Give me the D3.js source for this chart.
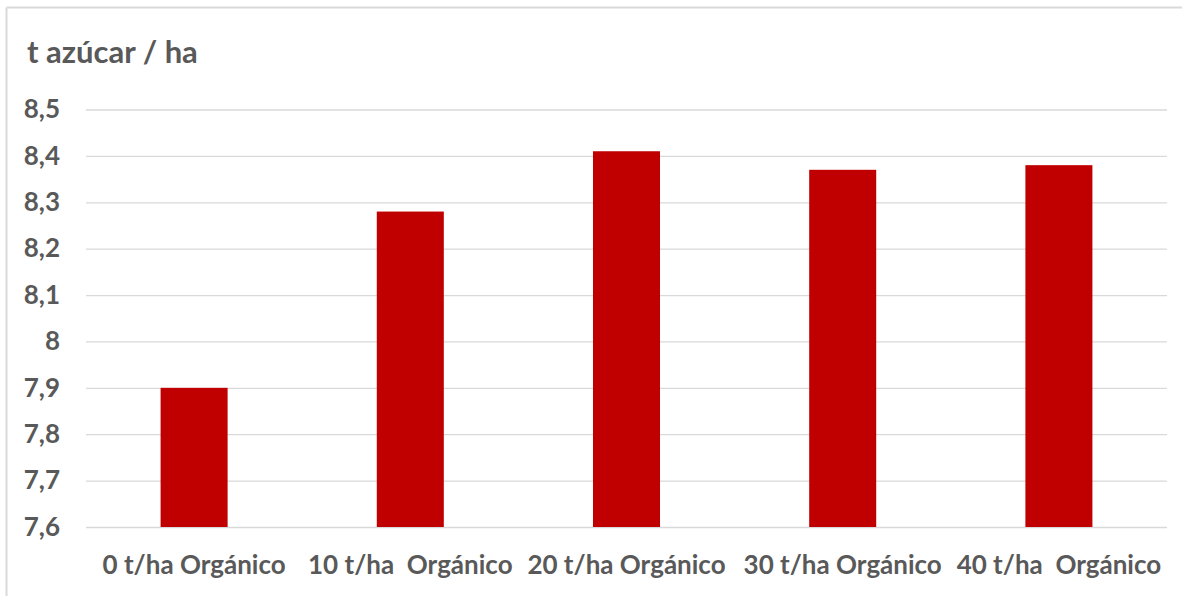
<!DOCTYPE html>
<html>
<head>
<meta charset="utf-8">
<script src="https://cdn.jsdelivr.net/npm/d3@7/dist/d3.min.js"></script>
<style>
  html, body { margin: 0; padding: 0; background: #fff; }
  svg { display: block; }
  text { font-family: Lato, "Open Sans", sans-serif; font-weight: 700; fill: #595959; }
</style>
</head>
<body>
<svg id="chart" width="1182" height="596"></svg>
<script>
// Sugar yield per hectare by organic fertiliser dose
const categories = ["0 t/ha Orgánico", "10 t/ha  Orgánico", "20 t/ha Orgánico", "30 t/ha Orgánico", "40 t/ha  Orgánico"];
const yieldValues = [7.90, 8.28, 8.41, 8.37, 8.38];
const yTicks = [7.6, 7.7, 7.8, 7.9, 8.0, 8.1, 8.2, 8.3, 8.4, 8.5];
const titleText = "t azúcar / ha";

const svg = d3.select("#chart");
const W = 1182, H = 596;
const margin = { top: 109.5, right: 15, bottom: 69, left: 86 };
const font = "Lato, 'Open Sans', sans-serif";

// frame: only top and left edges show
svg.append("line").attr("x1", 6.5).attr("x2", W).attr("y1", 7.5).attr("y2", 7.5)
  .attr("stroke", "#d9d9d9").attr("stroke-width", 2);
svg.append("line").attr("x1", 6.5).attr("x2", 6.5).attr("y1", 7.5).attr("y2", H)
  .attr("stroke", "#d9d9d9").attr("stroke-width", 2);

const x = d3.scaleBand()
  .domain(categories)
  .range([margin.left, W - margin.right])
  .paddingInner(0.69)
  .paddingOuter(0.345);

const y = d3.scaleLinear()
  .domain([7.6, 8.5])
  .range([H - margin.bottom, margin.top]);

const fmt = v => (Number.isInteger(v) ? d3.format("d")(v) : d3.format(".1f")(v)).replace(".", ",");

// gridlines + y labels
const yAxis = d3.axisLeft(y).tickValues(yTicks).tickSize(-(W - margin.right - margin.left)).tickFormat(fmt).tickPadding(26);
const gy = svg.append("g").attr("transform", `translate(${margin.left},0)`).call(yAxis);
gy.select(".domain").remove();
gy.selectAll(".tick line").attr("stroke", "#d9d9d9").attr("stroke-width", 1.3);
gy.selectAll(".tick text").attr("font-size", 26).attr("fill", "#595959").attr("font-family", font).attr("font-weight", 700);

// bars
svg.append("g").selectAll("rect")
  .data(categories)
  .join("rect")
  .attr("x", d => x(d))
  .attr("width", x.bandwidth())
  .attr("y", (d, i) => y(yieldValues[i]))
  .attr("height", (d, i) => y(7.6) - y(yieldValues[i]))
  .attr("fill", "#c00000");

// x labels
const xAxis = d3.axisBottom(x).tickSize(0).tickPadding(29);
const gx = svg.append("g").attr("transform", `translate(0,${y(7.6)})`).call(xAxis);
gx.select(".domain").remove();
gx.selectAll(".tick text").attr("font-size", 26).attr("fill", "#595959")
  .attr("font-family", font).attr("font-weight", 700)
  .style("white-space", "pre");

// title
svg.append("text").attr("x", 27).attr("y", 63).attr("font-size", 31).text(titleText);
</script>
</body>
</html>
